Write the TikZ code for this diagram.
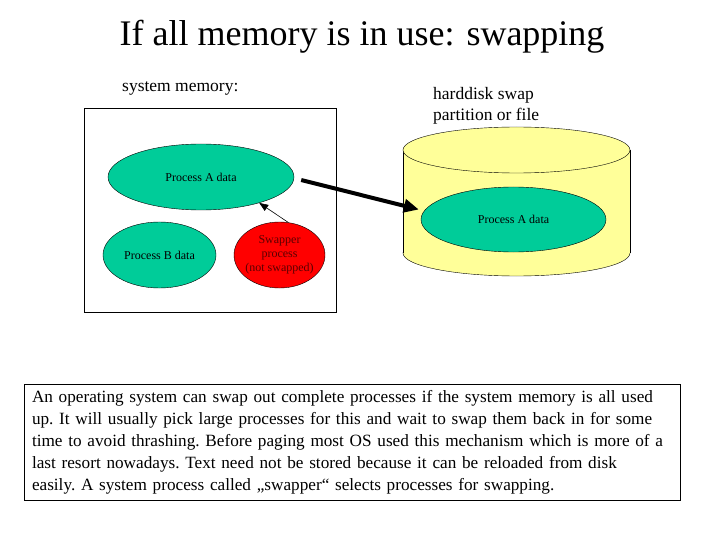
\documentclass[tikz,border=0pt]{standalone}
\usepackage{fontspec}
\setmainfont{Liberation Serif}
\usetikzlibrary{shapes.geometric,arrows.meta}
\definecolor{procgreen}{RGB}{0,204,153}
\definecolor{swapred}{RGB}{255,0,0}
\definecolor{swaptextcol}{RGB}{90,0,0}
\definecolor{diskyellow}{RGB}{255,255,153}

\begin{document}
\begin{tikzpicture}[x=1pt,y=-1pt,
  blob/.style={ellipse, draw=black, fill=procgreen, inner sep=0pt, font=\fontsize{12}{14}\selectfont},
  lbl/.style={anchor=west, inner sep=0pt, align=left, font=\fontsize{17.5}{21}\selectfont}]
\useasboundingbox [fill=white] (0,0) rectangle (720,540);
\node (title) at (362,37) {\fontsize{36}{42}\selectfont If all memory is in use: swapping};
% system memory
\node [lbl] (memlabel) at (122,88) {system memory:};
\node [draw=black, minimum width=252pt, minimum height=204pt, inner sep=0pt] (mem) at (210,210) {};
\node [blob, minimum width=186pt, minimum height=66pt] (procA) at (201,177) {Process A data};
\node [blob, minimum width=113pt, minimum height=66pt] (procB) at (159.5,255) {Process B data};
\node [blob, fill=swapred, text=swaptextcol, align=center, inner xsep=-2pt, minimum width=91pt, minimum height=66pt] (swapper) at (279.5,255) {Swapper\\process\\(not swapped)};
% harddisk
\node [lbl] (disklabel) at (433,105.5) {harddisk swap\\partition or file};
\filldraw [fill=diskyellow, draw=black] (516.5,253) ellipse [x radius=113.5pt, y radius=23pt];
\fill [diskyellow] (403,150) rectangle (630,253);
\draw (403,150) -- (403,253) (630,150) -- (630,253);
\filldraw [fill=diskyellow, draw=black] (516.5,150) ellipse [x radius=113.5pt, y radius=23pt];
\node [blob, minimum width=185pt, minimum height=65pt] (diskA) at (513.5,219.5) {Process A data};
% arrows
\draw [line width=4pt, -{Triangle[length=15pt,width=13pt]}] ([xshift=7pt,yshift=-3pt]procA.east) -- ([xshift=-2pt,yshift=10pt]diskA.west);
\draw [line width=0.6pt, -{Triangle[length=9pt,width=7pt]}] (swapper.75) -- (procA.-24);
% explanation
\node [draw=black, text width=640pt, inner xsep=8pt, inner ysep=6pt, minimum height=116pt, align=left, font=\fontsize{17.2}{22}\selectfont\frenchspacing] (note) at (352,442) {An operating system can swap out complete processes if the system memory is all used\\
up. It will usually pick large processes for this and wait to swap them back in for some\\
time to avoid thrashing. Before paging most OS used this mechanism which is more of a\\
last resort nowadays. Text need not be stored because it can be reloaded from disk\\
easily. A system process called „swapper“ selects processes for swapping.};
\end{tikzpicture}
\end{document}
